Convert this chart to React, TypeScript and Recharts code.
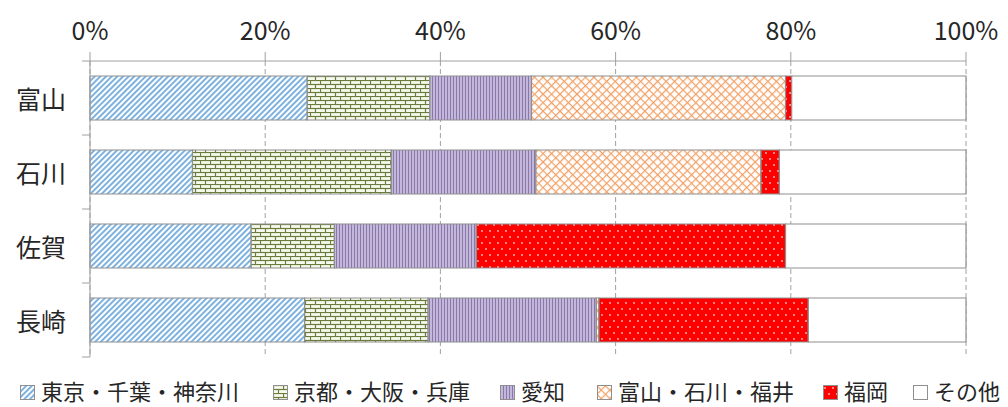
import { BarChart, Bar, XAxis, YAxis, CartesianGrid, Legend } from "recharts"

const categories = ["富山", "石川", "佐賀", "長崎"]
const tokyo = [24.8, 11.7, 18.4, 24.5]
const kansai = [14.0, 22.7, 9.5, 14.1]
const aichi = [11.6, 16.5, 16.2, 19.2]
const hokuriku = [29.0, 25.7, 0, 0.3]
const fukuoka = [0.7, 2.1, 35.3, 23.9]
const other = [19.9, 21.3, 20.6, 18.0]
const xTicks = [0, 20, 40, 60, 80, 100]

const series = [
  { key: "tokyo", name: "東京・千葉・神奈川", fill: "url(#pTokyo)" },
  { key: "kansai", name: "京都・大阪・兵庫", fill: "url(#pKansai)" },
  { key: "aichi", name: "愛知", fill: "url(#pAichi)" },
  { key: "hokuriku", name: "富山・石川・福井", fill: "url(#pHokuriku)" },
  { key: "fukuoka", name: "福岡", fill: "url(#pFukuoka)" },
  { key: "other", name: "その他", fill: "#ffffff" },
]

// left edge of each legend entry
const legendLeft = [20, 273, 500, 597, 823, 913]

const rows = categories.map((name, i) => ({
  name,
  tokyo: tokyo[i],
  kansai: kansai[i],
  aichi: aichi[i],
  hokuriku: hokuriku[i],
  fukuoka: fukuoka[i],
  other: other[i],
}))

const FONT = '"Noto Sans CJK JP", "Noto Sans", sans-serif'
const AXIS = "#a0a0a0"
const EDGE = "#8f8f8f"

// plot box in chart pixels
const PLOT_TOP = 61
const PLOT_BOTTOM = 357
const BAND = (PLOT_BOTTOM - PLOT_TOP) / categories.length

function Patterns() {
  return (
    <svg width={0} height={0} style={{ position: "absolute" }}>
      <defs>
        <pattern id="pTokyo" width={4} height={4} patternUnits="userSpaceOnUse" patternTransform="rotate(45)">
          <rect width={4} height={4} fill="#ffffff" />
          <rect width={2} height={4} fill="#7db2e0" />
        </pattern>
        <pattern id="pKansai" width={10} height={8} patternUnits="userSpaceOnUse">
          <rect width={10} height={8} fill="#f6f9ee" />
          <line x1={0} y1={0.5} x2={10} y2={0.5} stroke="#6b7d3a" strokeWidth={1.2} />
          <line x1={0} y1={4.5} x2={10} y2={4.5} stroke="#6b7d3a" strokeWidth={1.2} />
          <line x1={0.5} y1={0} x2={0.5} y2={4.5} stroke="#6b7d3a" strokeWidth={1.2} />
          <line x1={5.5} y1={4.5} x2={5.5} y2={8} stroke="#6b7d3a" strokeWidth={1.2} />
        </pattern>
        <pattern id="pAichi" width={3} height={4} patternUnits="userSpaceOnUse">
          <rect width={3} height={4} fill="#c3b8da" />
          <rect width={1} height={4} fill="#8a78ad" />
        </pattern>
        <pattern id="pHokuriku" width={6} height={6} patternUnits="userSpaceOnUse" patternTransform="rotate(45)">
          <rect width={6} height={6} fill="#ffffff" />
          <line x1={0} y1={0.6} x2={6} y2={0.6} stroke="#f2a065" strokeWidth={1.2} />
          <line x1={0.6} y1={0} x2={0.6} y2={6} stroke="#f2a065" strokeWidth={1.2} />
        </pattern>
        <pattern id="pFukuoka" width={8} height={12} patternUnits="userSpaceOnUse">
          <rect width={8} height={12} fill="#ff0000" />
          <circle cx={2} cy={3} r={0.9} fill="#ffc0c0" />
          <circle cx={6} cy={9} r={0.9} fill="#ffc0c0" />
        </pattern>
      </defs>
    </svg>
  )
}

function PercentTick(props: any) {
  const { x, payload } = props
  return (
    <text x={x} y={29} textAnchor="middle" dominantBaseline="central" fontSize={25} fill="#262626" fontFamily={FONT}>
      {payload.value}%
    </text>
  )
}

// category label plus the boundary tick marks between bands
function CategoryTick(props: any) {
  const { y, payload, index } = props
  const top = y - BAND / 2
  return (
    <g>
      <text x={66} y={y} textAnchor="end" dominantBaseline="central" fontSize={25} fill="#262626" fontFamily={FONT}>
        {payload.value}
      </text>
      <line x1={82} y1={top} x2={90} y2={top} stroke={AXIS} />
      {index === categories.length - 1 && <line x1={82} y1={y + BAND / 2} x2={90} y2={y + BAND / 2} stroke={AXIS} />}
    </g>
  )
}

function LegendBox() {
  return (
    <div
      style={{
        position: "relative",
        height: 50,
        fontFamily: FONT,
        fontSize: 22,
        color: "#262626",
        whiteSpace: "nowrap",
      }}
    >
      {series.map((s, i) => (
        <div
          key={s.key}
          style={{ position: "absolute", left: legendLeft[i], top: 17, display: "flex", alignItems: "center" }}
        >
          <svg width={15} height={15} style={{ marginRight: 6, marginTop: 4, flexShrink: 0 }}>
            <rect x={0.5} y={0.5} width={14} height={14} fill={s.fill} stroke={EDGE} />
          </svg>
          <span>{s.name}</span>
        </div>
      ))}
    </div>
  )
}

export default function App() {
  return (
    <div style={{ width: 1008, height: 407, background: "#fff" }}>
      <style>{"body{margin:0}"}</style>
      <Patterns />
      <BarChart
        width={1008}
        height={407}
        data={rows}
        layout="vertical"
        margin={{ top: 0, right: 42, bottom: 0, left: 0 }}
        barSize={44}
      >
        <CartesianGrid horizontal={false} stroke={AXIS} strokeDasharray="5 3" />
        <XAxis
          type="number"
          orientation="top"
          domain={[0, 100]}
          ticks={xTicks}
          height={61}
          tickSize={9}
          axisLine={{ stroke: AXIS }}
          tickLine={{ stroke: AXIS }}
          tick={<PercentTick />}
        />
        <YAxis
          type="category"
          dataKey="name"
          width={90}
          axisLine={{ stroke: AXIS }}
          tickLine={false}
          tick={<CategoryTick />}
        />
        <Legend
          verticalAlign="bottom"
          height={50}
          wrapperStyle={{ left: 0, width: 1008 }}
          content={() => <LegendBox />}
        />
        {series.map((s) => (
          <Bar
            key={s.key}
            dataKey={s.key}
            name={s.name}
            stackId="a"
            fill={s.fill}
            stroke={EDGE}
            strokeWidth={1.2}
            isAnimationActive={false}
          />
        ))}
      </BarChart>
    </div>
  )
}
